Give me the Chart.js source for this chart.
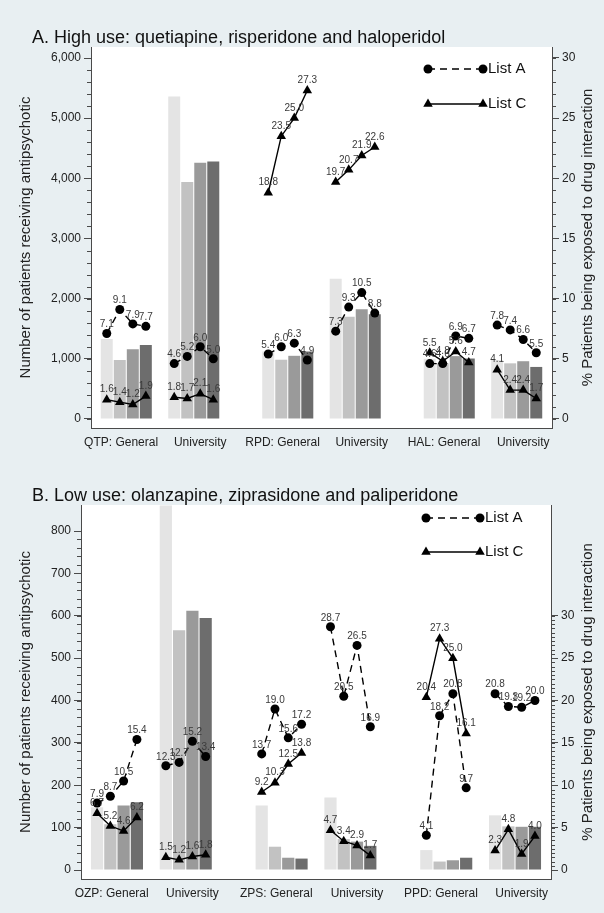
<!DOCTYPE html>
<html>
<head>
<meta charset="utf-8">
<script src="https://cdn.jsdelivr.net/npm/chart.js@4.4.1/dist/chart.umd.min.js"></script>
<style>
  body { margin: 0; background: #e8eff2; }
  canvas { display: block; }
</style>
</head>
<body>
<canvas id="panelA" width="604" height="460"></canvas>
<canvas id="panelB" width="604" height="453"></canvas>
<script>
const FONT = "'Liberation Sans', Arial, sans-serif"
const AXIS = '#4a4a4a'
const shades = ['#e4e4e4', '#c2c2c2', '#9a9a9a', '#6d6d6d']

// A. high use (bars = number of patients, 4 periods per group)
const groupsA = ['QTP: General', 'University', 'RPD: General', 'University', 'HAL: General', 'University']
const patientsA = [
    [1330, 980, 1160, 1230],
    [5360, 3940, 4260, 4280],
    [1120, 985, 1050, 1120],
    [2330, 1700, 1825, 1740],
    [1000, 925, 1045, 1005],
    [980, 925, 960, 865]
]
const listAHigh = [
    [7.1, 9.1, 7.9, 7.7],
    [4.6, 5.2, 6.0, 5.0],
    [5.4, 6.0, 6.3, 4.9],
    [7.3, 9.3, 10.5, 8.8],
    [4.6, 4.6, 6.9, 6.7],
    [7.8, 7.4, 6.6, 5.5]
]
const listCHigh = [
    [1.6, 1.4, 1.2, 1.9],
    [1.8, 1.7, 2.1, 1.6],
    [18.8, 23.5, 25.0, 27.3],
    [19.7, 20.7, 21.9, 22.6],
    [5.5, 4.8, 5.6, 4.7],
    [4.1, 2.4, 2.4, 1.7]
]
const leftTicksA = [0, 1000, 2000, 3000, 4000, 5000, 6000]

// B. low use
const groupsB = ['OZP: General', 'University', 'ZPS: General', 'University', 'PPD: General', 'University']
const patientsB = [
    [148, 108, 152, 160],
    [860, 566, 612, 595],
    [152, 55, 29, 27],
    [171, 73, 67, 57],
    [47, 20, 23, 29],
    [129, 103, 102, 102]
]
const listALow = [
    [7.9, 8.7, 10.5, 15.4],
    [12.3, 12.7, 15.2, 13.4],
    [13.7, 19.0, 15.6, 17.2],
    [28.7, 20.5, 26.5, 16.9],
    [4.1, 18.2, 20.8, 9.7],
    [20.8, 19.3, 19.2, 20.0]
]
const listCLow = [
    [6.7, 5.2, 4.6, 6.2],
    [1.5, 1.2, 1.6, 1.8],
    [9.2, 10.3, 12.5, 13.8],
    [4.7, 3.4, 2.9, 1.7],
    [20.4, 27.3, 25.0, 16.1],
    [2.3, 4.8, 1.9, 4.0]
]
const leftTicksB = [0, 100, 200, 300, 400, 500, 600, 700, 800]
const pctTicks = [0, 5, 10, 15, 20, 25, 30]

// bar layout along x, in bar widths
const MARGIN = 0.71, INTRA = 1.18, INTER = 3.22
const SPAN = 2 * MARGIN + 24 + 3 * INTRA + 2 * INTER

function groupStart(g) {
    const pair = Math.floor(g / 2)
    return MARGIN + 4 * g + INTRA * (pair + g % 2) + INTER * pair
}
function barX(g, k) { return groupStart(g) + k + 0.5 }
// the group labels sit a little apart from each other, as in the original
function labelX(g) { return groupStart(g) + 2 + (g % 2 ? 0.5 : -0.4) }

// white plot region, titles, minor ticks, marker labels and legend
const deco = {
    id: 'deco',
    beforeDraw(chart) {
        const { ctx, chartArea: a } = chart
        ctx.save()
        ctx.fillStyle = '#ffffff'
        ctx.fillRect(a.left, a.top, a.right - a.left, a.bottom - a.top)
        ctx.restore()
    },
    afterDatasetsDraw(chart) {
        const ctx = chart.ctx
        ctx.save()
        ctx.font = '10px ' + FONT
        ctx.fillStyle = '#3a3a3a'
        ctx.textAlign = 'center'
        ctx.textBaseline = 'bottom'
        chart.data.datasets.forEach((ds, d) => {
            if (ds.type !== 'line') return
            const meta = chart.getDatasetMeta(d)
            meta.data.forEach((el, i) => {
                const v = ds.data[i].y
                if (v === null) return
                ctx.fillText(v.toFixed(1), el.x, el.y - (ds.pointStyle === 'triangle' ? 5 : 4))
            })
        })
        ctx.restore()
    },
    afterDraw(chart, args, o) {
        const { ctx, chartArea: a } = chart
        ctx.save()
        // panel title
        ctx.fillStyle = '#111'
        ctx.font = '18px ' + FONT
        ctx.textAlign = 'left'
        ctx.textBaseline = 'middle'
        ctx.fillText(o.title, 32, a.top - 9)

        // right axis title, reads bottom to top
        ctx.font = '15px ' + FONT
        ctx.fillStyle = '#222'
        ctx.textAlign = 'center'
        ctx.translate(chart.width - 16, (a.top + a.bottom) / 2)
        ctx.rotate(-Math.PI / 2)
        ctx.fillText('% Patients being exposed to drug interaction', 0, 0)
        ctx.setTransform(1, 0, 0, 1, 0, 0)

        // minor ticks
        ctx.strokeStyle = AXIS
        ctx.lineWidth = 1
        ctx.beginPath()
        const yl = chart.scales.y, yr = chart.scales.y1
        for (let i = 0; i * o.leftMinor <= o.leftTop + 1e-9; i++) {
            const py = Math.round(yl.getPixelForValue(i * o.leftMinor)) + 0.5
            ctx.moveTo(a.left, py); ctx.lineTo(a.left - 4, py)
        }
        for (let i = 0; i * o.rightMinor <= 30 + 1e-9; i++) {
            const py = Math.round(yr.getPixelForValue(i * o.rightMinor)) + 0.5
            ctx.moveTo(a.right, py); ctx.lineTo(a.right + 4, py)
        }
        ctx.stroke()

        // legend
        o.legend.forEach((item) => {
            ctx.strokeStyle = '#000'
            ctx.fillStyle = '#000'
            ctx.lineWidth = 1.3
            ctx.setLineDash(item.dash)
            ctx.beginPath()
            ctx.moveTo(o.legendX1, item.y); ctx.lineTo(o.legendX2, item.y)
            ctx.stroke()
            ctx.setLineDash([])
            const r = item.style === 'triangle' ? 5.5 : 4.5
            Chart.helpers.drawPoint(ctx, { pointStyle: item.style, radius: r, borderWidth: 0, rotation: 0 }, o.legendX1, item.y)
            Chart.helpers.drawPoint(ctx, { pointStyle: item.style, radius: r, borderWidth: 0, rotation: 0 }, o.legendX2, item.y)
            ctx.font = '15px ' + FONT
            ctx.fillStyle = '#111'
            ctx.textAlign = 'left'
            ctx.textBaseline = 'middle'
            ctx.fillText(item.label, o.legendX2 + 5, item.y)
        })
        ctx.restore()
    }
}

function linePoints(rows) {
    return rows.flatMap((row, g) => [
        ...row.map((v, k) => ({ x: barX(g, k), y: v })),
        { x: groupStart(g) + 4.5, y: null }
    ])
}

function panel(id, p) {
    const bars = shades.map((c, k) => ({
        type: 'bar',
        label: 'Period ' + (k + 1),
        data: p.patients.map((grp, g) => ({ x: barX(g, k), y: grp[k] })),
        backgroundColor: c,
        borderWidth: 0,
        barPercentage: 0.92,
        categoryPercentage: 1,
        grouped: false,
        yAxisID: 'y',
        order: 2
    }))
    const listA = {
        type: 'line', label: 'List A', data: linePoints(p.listA), yAxisID: 'y1', order: 1,
        borderColor: '#000', borderWidth: 1.4, borderDash: [7, 5], tension: 0, fill: false,
        pointStyle: 'circle', pointRadius: 4.5, pointBackgroundColor: '#000', pointBorderWidth: 0
    }
    const listC = {
        type: 'line', label: 'List C', data: linePoints(p.listC), yAxisID: 'y1', order: 1,
        borderColor: '#000', borderWidth: 1.4, tension: 0, fill: false,
        pointStyle: 'triangle', pointRadius: 5.5, pointBackgroundColor: '#000', pointBorderWidth: 0
    }
    const tickFont = { family: FONT, size: 12 }

    new Chart(document.getElementById(id), {
        type: 'bar',
        data: { datasets: [...bars, listA, listC] },
        plugins: [deco],
        options: {
            responsive: false,
            devicePixelRatio: 1,
            animation: false,
            events: [],
            layout: { padding: { top: p.top, left: 0, right: 0, bottom: 0 } },
            plugins: {
                legend: { display: false },
                tooltip: { enabled: false },
                deco: {
                    title: p.title,
                    leftMinor: p.leftMinor, leftTop: p.leftTicks[p.leftTicks.length - 1],
                    rightMinor: p.rightMinor,
                    legendX1: p.legendX1, legendX2: p.legendX2,
                    legend: [
                        { label: 'List A', dash: [7, 5], style: 'circle', y: p.legendY[0] },
                        { label: 'List C', dash: [], style: 'triangle', y: p.legendY[1] }
                    ]
                }
            },
            scales: {
                x: {
                    type: 'linear', min: 0, max: SPAN, offset: false,
                    grid: { drawOnChartArea: false, drawTicks: false },
                    border: { color: AXIS, width: 1 },
                    ticks: {
                        autoSkip: false, maxRotation: 0, padding: 7, color: '#222',
                        font: { family: FONT, size: 12 },
                        callback: (v, i) => p.groups[i]
                    },
                    afterBuildTicks: (s) => { s.ticks = p.groups.map((_, g) => ({ value: labelX(g) })) },
                    afterFit: (s) => { s.height = p.xHeight }
                },
                y: {
                    position: 'left', min: p.yMin, max: p.yMax,
                    grid: { drawOnChartArea: false, tickLength: 7, tickColor: AXIS, tickWidth: 1 },
                    border: { color: AXIS, width: 1 },
                    ticks: { padding: 3, color: '#222', font: tickFont, callback: (v) => v.toLocaleString('en-US') },
                    afterBuildTicks: (s) => { s.ticks = p.leftTicks.map((v) => ({ value: v })) },
                    afterFit: (s) => { s.width = p.leftWidth },
                    title: {
                        display: true, text: 'Number of patients receiving antipsychotic',
                        color: '#222', font: { family: FONT, size: 15 }, padding: { top: 17, bottom: 0 }
                    }
                },
                y1: {
                    position: 'right', min: p.pMin, max: p.pMax,
                    grid: { drawOnChartArea: false, tickLength: 7, tickColor: AXIS, tickWidth: 1 },
                    border: { color: AXIS, width: 1 },
                    ticks: { padding: 3, color: '#222', font: tickFont },
                    afterBuildTicks: (s) => { s.ticks = pctTicks.map((v) => ({ value: v })) },
                    afterFit: (s) => { s.width = p.rightWidth }
                }
            }
        }
    })
}

panel('panelA', {
    title: 'A. High use: quetiapine, risperidone and haloperidol',
    groups: groupsA, patients: patientsA, listA: listAHigh, listC: listCHigh,
    leftTicks: leftTicksA, yMin: -150, yMax: 6183, pMin: -0.75, pMax: 30.91,
    leftMinor: 200, rightMinor: 1,
    top: 47, xHeight: 32, leftWidth: 91, rightWidth: 52,
    legendX1: 428, legendX2: 483, legendY: [69, 104]
})

panel('panelB', {
    title: 'B. Low use: olanzapine, ziprasidone and paliperidone',
    groups: groupsB, patients: patientsB, listA: listALow, listC: listCLow,
    leftTicks: leftTicksB, yMin: -21.2, yMax: 861.4, pMin: -1.06, pMax: 43.07,
    leftMinor: 20, rightMinor: 0.5,
    top: 45, xHeight: 34, leftWidth: 81, rightWidth: 53,
    legendX1: 426, legendX2: 480, legendY: [58, 92]
})
</script>
</body>
</html>
